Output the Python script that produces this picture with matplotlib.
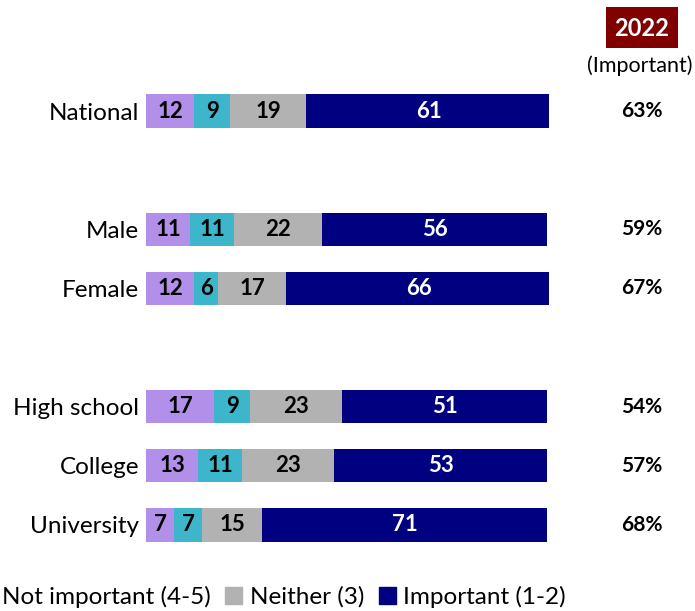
"""
Stacked bar chart: importance ratings by group, 2022
"""
import matplotlib
matplotlib.use('Agg')
import matplotlib.pyplot as plt
import matplotlib.transforms as mtransforms
from matplotlib.patches import Patch, Rectangle

plt.rcParams['font.family'] = ['Lato', 'DejaVu Sans']

# Data
groups = ['National', 'Male', 'Female', 'High school', 'College', 'University']
positions = [0, 2, 3, 5, 6, 7]
not_important = [12, 11, 12, 17, 13, 7]
unsure = [9, 11, 6, 9, 11, 7]
neither = [19, 22, 17, 23, 23, 15]
important = [61, 56, 66, 51, 53, 71]
important_2022 = ['63%', '59%', '67%', '54%', '57%', '68%']

series = [not_important, unsure, neither, important]
colors = ['#B28FE8', '#3DB6CB', '#B2B2B2', '#000080']
text_colors = ['black', 'black', 'black', 'white']

fig = plt.figure(figsize=(6.95, 6.11), dpi=100)
ax = fig.add_axes([146 / 695, 1 - 560 / 611, (549 - 146) / 695, 500 / 611])

left = [0] * len(groups)
for vals, col, tcol in zip(series, colors, text_colors):
    ax.barh(positions, vals, left=left, height=0.56, color=col, edgecolor='none')
    for p, v, l in zip(positions, vals, left):
        ax.text(l + v / 2, p, str(v), ha='center', va='center',
                fontsize=16, fontweight='bold', color=tcol)
    left = [a + b for a, b in zip(left, vals)]

ax.set_xlim(0, 100.5)
ax.set_ylim(7.592, -0.863)
ax.set_yticks(positions)
ax.set_yticklabels(groups, fontsize=17.5)
ax.tick_params(axis='y', length=0, pad=5)
ax.set_xticks([])
for s in ax.spines.values():
    s.set_visible(False)

# 2022 column
trans = mtransforms.blended_transform_factory(fig.transFigure, ax.transData)
for p, t in zip(positions, important_2022):
    ax.text(642 / 695, p, t, transform=trans, ha='center', va='center',
            fontsize=15, fontweight='bold', clip_on=False)

fig.patches.append(Rectangle((606 / 695, 1 - 48 / 611), 72 / 695, 41 / 611,
                             transform=fig.transFigure, facecolor='#800000',
                             edgecolor='none'))
fig.text(642 / 695, 1 - 28 / 611, '2022', ha='center', va='center',
         fontsize=17, fontweight='bold', color='white')
fig.text(640 / 695, 1 - 66 / 611, '(Important)', ha='center', va='center', fontsize=15.5)

# Legend (first marker falls off the left edge, as in the original)
handles = [Patch(color=colors[0]), Patch(color=colors[2]), Patch(color=colors[3])]
labels = ['Not important (4-5)', 'Neither (3)', 'Important (1-2)']
fig.legend(handles, labels, loc='center left', bbox_to_anchor=(-0.032, 1 - 597 / 611),
           ncol=3, frameon=False, fontsize=17.5, handlelength=0.7, handleheight=0.7,
           handletextpad=0.3, columnspacing=0.6, borderaxespad=0, borderpad=0)

fig.savefig('out.png')
